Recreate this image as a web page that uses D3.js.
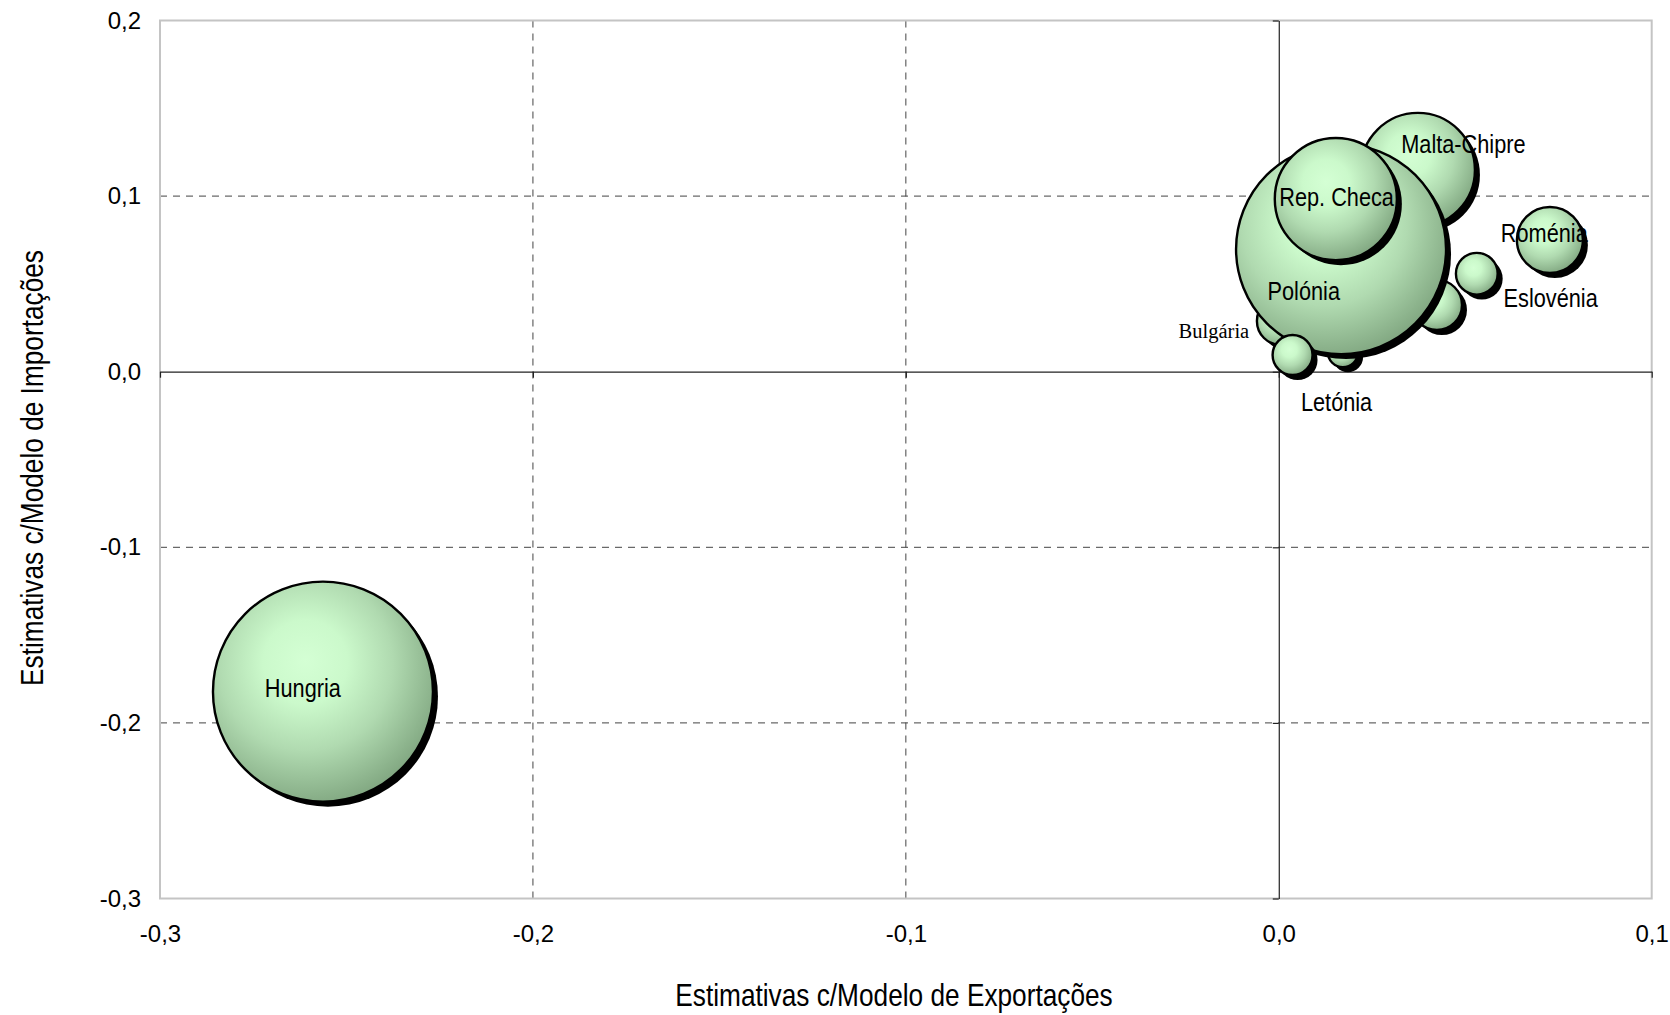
<!DOCTYPE html>
<html>
<head>
<meta charset="utf-8">
<script src="https://cdn.jsdelivr.net/npm/d3@7"></script>
<style>
  html, body { margin: 0; padding: 0; background: #fff; }
  svg { display: block; }
  .narrow { font-family: "Liberation Sans", Arial, sans-serif; }
  .tick text { font-family: "Liberation Sans", Arial, sans-serif; font-size: 24px; fill: #000; }
</style>
</head>
<body>
<svg id="chart" width="1670" height="1015"></svg>
<script>
// ---------------- data ----------------
const countries   = ["Malta-Chipre", "Bulgária", "Eslováquia", "Lituânia", "Polónia", "Rep. Checa", "Letónia", "Eslovénia", "Roménia", "Hungria"];
const labels      = ["Malta-Chipre", "Bulgária", "", "", "Polónia", "Rep. Checa", "Letónia", "Eslovénia", "Roménia", "Hungria"];
const exportEst   = [0.0373, 0.0006, 0.0424, 0.0172, 0.0167, 0.0153, 0.0037, 0.0531, 0.0727, -0.2563];
const importEst   = [0.1149, 0.0289, 0.0380, 0.0112, 0.0698, 0.0983, 0.0095, 0.0558, 0.0750, -0.1822];
const bubbleSize  = [26.9, 4.8, 5.2, 1.9, 91.1, 30.8, 3.3, 3.6, 9.0, 100];
// label anchor points (data units)
const labelX      = [0.0495, -0.0174, 0, 0, 0.0067, 0.0155, 0.0155, 0.0729, 0.0712, -0.2617];
const labelY      = [0.1298, 0.0231, 0, 0, 0.0461, 0.0994, -0.0170, 0.0419, 0.0794, -0.1800];
const serifLabel  = [false, true, false, false, false, false, false, false, false, false];

const xTicks = [-0.3, -0.2, -0.1, 0.0, 0.1];
const yTicks = [-0.3, -0.2, -0.1, 0.0, 0.1, 0.2];
const xTitle = "Estimativas c/Modelo de Exportações";
const yTitle = "Estimativas c/Modelo de Importações";

// ---------------- layout ----------------
const svg = d3.select("#chart");
const L = 160, T = 20.5, R = 1651.7, B = 898.5;
const NARROW = 0.82;

const x = d3.scaleLinear().domain([-0.3, 0.1]).range([L, R]);
const y = d3.scaleLinear().domain([-0.3, 0.2]).range([B, T]);
const r = d3.scaleSqrt().domain([0, 100]).range([0, 110]);

const pt = d3.formatLocale({decimal: ",", thousands: ".", grouping: [3], currency: ["", ""], minus: "-"});
const fmt = pt.format(".1f");

// gradient
const defs = svg.append("defs");
const grad = defs.append("radialGradient").attr("id", "bubbleGrad")
  .attr("cx", 0.42).attr("cy", 0.38).attr("r", 0.64).attr("fx", 0.42).attr("fy", 0.36);
[[0, "#d4ffd4"], [0.3, "#cbf9cb"], [0.62, "#b0dab0"], [1, "#82a882"]]
  .forEach(([o, c]) => grad.append("stop").attr("offset", o).attr("stop-color", c));

// gridlines
const grid = svg.append("g");
grid.selectAll("line.gx").data(xTicks.filter(v => v !== 0 && v > -0.3 && v < 0.1)).join("line")
  .attr("x1", d => x(d)).attr("x2", d => x(d)).attr("y1", T).attr("y2", B)
  .attr("stroke", "#444").attr("stroke-width", 1).attr("stroke-dasharray", "7,6");
grid.selectAll("line.gy").data(yTicks.filter(v => v !== 0 && v > -0.3 && v < 0.2)).join("line")
  .attr("x1", L).attr("x2", R).attr("y1", d => y(d)).attr("y2", d => y(d))
  .attr("stroke", "#444").attr("stroke-width", 1).attr("stroke-dasharray", "7,6");

// plot border
svg.append("rect").attr("x", L).attr("y", T).attr("width", R - L).attr("height", B - T)
  .attr("fill", "none").attr("stroke", "#c4c4c4").attr("stroke-width", 2);

// crossing axes at zero
const xAxisZero = svg.append("g").attr("transform", `translate(0,${y(0)})`)
  .call(d3.axisBottom(x).tickValues(xTicks).tickSize(6).tickSizeOuter(0).tickFormat(""));
const yAxisZero = svg.append("g").attr("transform", `translate(${x(0)},0)`)
  .call(d3.axisLeft(y).tickValues(yTicks).tickSize(6).tickSizeOuter(0).tickFormat(""));
[xAxisZero, yAxisZero].forEach(g => {
  g.select(".domain").attr("stroke", "#222").attr("stroke-width", 1.2);
  g.selectAll(".tick line").attr("stroke", "#222").attr("stroke-width", 1.2);
});

// tick labels
const xLab = svg.append("g").attr("transform", `translate(0,${B})`)
  .call(d3.axisBottom(x).tickValues(xTicks).tickSize(0).tickPadding(26).tickFormat(fmt));
const yLab = svg.append("g").attr("transform", `translate(${L},0)`)
  .call(d3.axisLeft(y).tickValues(yTicks).tickSize(0).tickPadding(19).tickFormat(fmt));
[xLab, yLab].forEach(g => { g.select(".domain").remove(); g.attr("font-size", null).attr("font-family", null); });

// bubbles
const data = countries.map((c, i) => ({
  name: c, label: labels[i], ex: exportEst[i], im: importEst[i], size: bubbleSize[i],
  lx: labelX[i], ly: labelY[i], serif: serifLabel[i]
}));

const bub = svg.append("g").selectAll("g").data(data).join("g");
bub.append("circle")
  .attr("cx", d => x(d.ex) + 5).attr("cy", d => y(d.im) + 5).attr("r", d => r(d.size))
  .attr("fill", "#000");
bub.append("circle")
  .attr("cx", d => x(d.ex)).attr("cy", d => y(d.im)).attr("r", d => r(d.size))
  .attr("fill", "url(#bubbleGrad)").attr("stroke", "#000").attr("stroke-width", 2.4);

// labels
svg.append("g").selectAll("text").data(data.filter(d => d.label)).join("text")
  .attr("class", d => d.serif ? null : "narrow")
  .attr("transform", d => `translate(${x(d.lx)},${y(d.ly)})` + (d.serif ? "" : ` scale(${NARROW},1)`))
  .attr("text-anchor", "middle").attr("dominant-baseline", "central")
  .attr("font-family", d => d.serif ? "'Liberation Serif', 'Times New Roman', serif" : null)
  .attr("font-size", d => d.serif ? 20.5 : 26.5)
  .attr("fill", "#000")
  .text(d => d.label);

// axis titles
svg.append("text").attr("class", "narrow")
  .attr("transform", `translate(894,995) scale(${NARROW},1)`)
  .attr("text-anchor", "middle").attr("dominant-baseline", "central")
  .attr("font-size", 32).text(xTitle);
svg.append("text").attr("class", "narrow")
  .attr("transform", `translate(32,468) rotate(-90) scale(${NARROW},1)`)
  .attr("text-anchor", "middle").attr("dominant-baseline", "central")
  .attr("font-size", 32).text(yTitle);
</script>
</body>
</html>
